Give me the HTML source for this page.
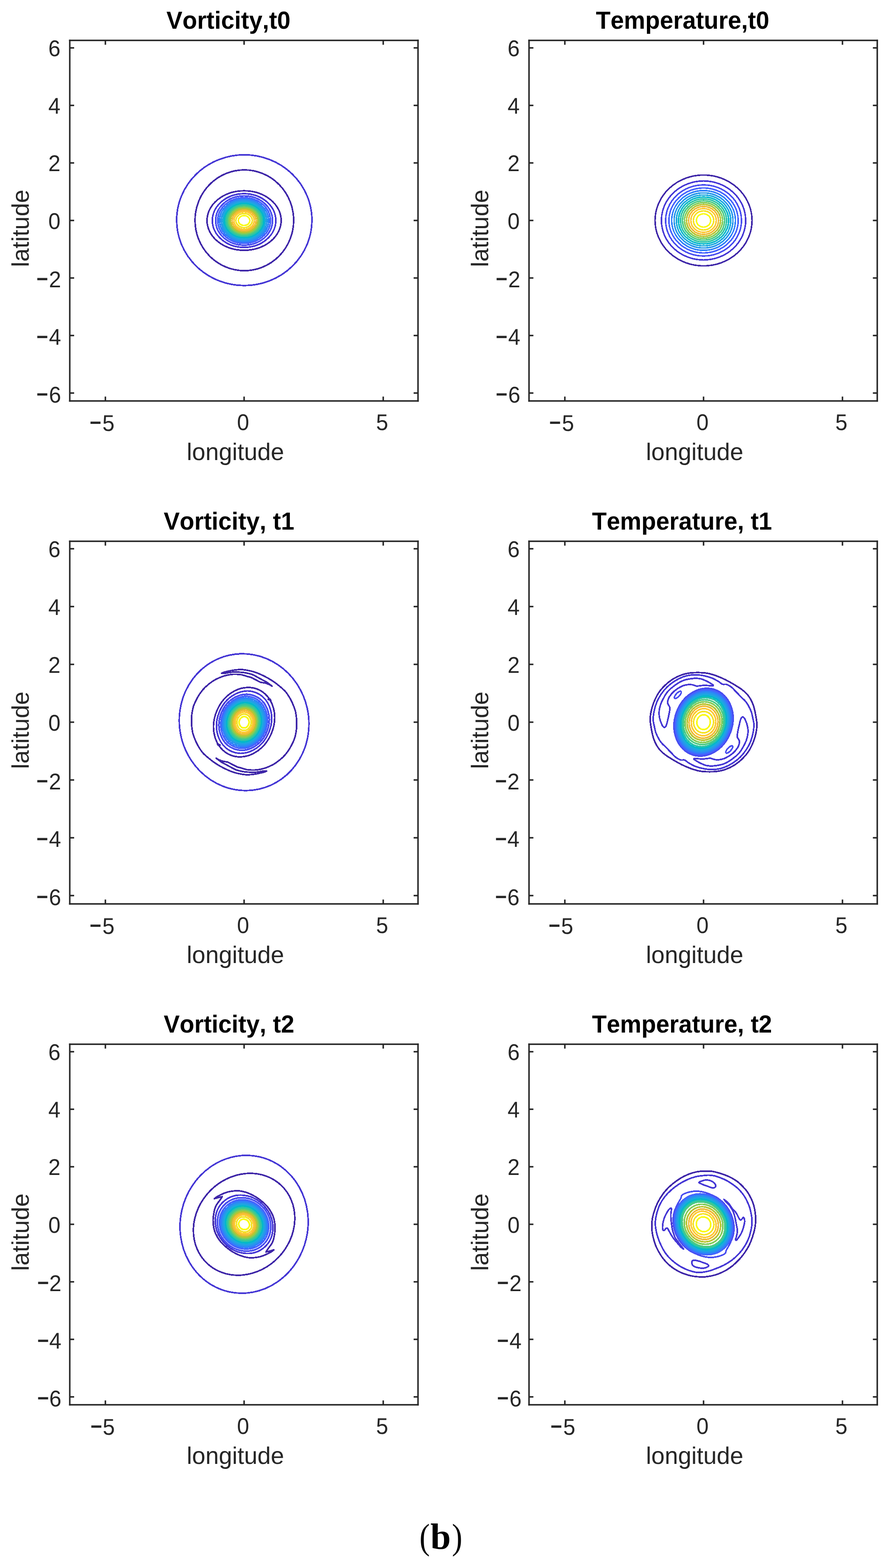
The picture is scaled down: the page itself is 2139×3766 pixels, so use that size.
<!DOCTYPE html>
<html lang="en"><head><meta charset="utf-8"><title>Vorticity and temperature contours (b)</title>
<style>
html,body{margin:0;padding:0;background:#fff;}
body{width:2139px;height:3766px;overflow:hidden;}
svg{display:block;}
</style></head><body>
<svg width="2139" height="3766" viewBox="0 0 2139 3766" font-family="'Liberation Sans', Arial, Helvetica, sans-serif" style="font-kerning:none;font-variant-ligatures:none" text-rendering="geometricPrecision">
<rect width="2139" height="3766" fill="#fff"/>
<g fill="none" stroke-width="3.60" stroke-linejoin="round" stroke-linecap="round" shape-rendering="crispEdges">
<ellipse cx="586.50" cy="528.80" rx="162.40" ry="157.00" stroke="#4537d5" stroke-width="3.80"/>
<ellipse cx="586.60" cy="529.10" rx="118.40" ry="121.00" stroke="#3e26a8" stroke-width="3.80"/>
<ellipse cx="586.00" cy="529.70" rx="89.00" ry="71.40" stroke="#3e26a8" stroke-width="3.80"/>
<ellipse cx="586.00" cy="529.70" rx="76.20" ry="64.50" stroke="#4537d5" stroke-width="3.80"/>
<ellipse cx="586.00" cy="529.70" rx="68.30" ry="59.15" stroke="#484df0" stroke-width="3.80"/>
<ellipse cx="586.00" cy="529.70" rx="63.30" ry="54.82" stroke="#4563fd" stroke-width="3.80"/>
<ellipse cx="586.00" cy="529.70" rx="59.00" ry="51.09" stroke="#2f81fa" stroke-width="3.80"/>
<ellipse cx="586.00" cy="529.70" rx="54.90" ry="47.54" stroke="#2797eb" stroke-width="3.80"/>
<ellipse cx="586.00" cy="529.70" rx="51.00" ry="44.17" stroke="#1ca9df" stroke-width="3.80"/>
<ellipse cx="586.00" cy="529.70" rx="47.30" ry="40.96" stroke="#01b8ca" stroke-width="3.80"/>
<ellipse cx="586.00" cy="529.70" rx="43.70" ry="37.84" stroke="#2cc4a7" stroke-width="3.80"/>
<ellipse cx="586.00" cy="529.70" rx="40.00" ry="34.64" stroke="#4acb84" stroke-width="3.80"/>
<ellipse cx="586.00" cy="529.70" rx="36.40" ry="31.52" stroke="#81cc59" stroke-width="3.80"/>
<ellipse cx="586.00" cy="529.70" rx="32.70" ry="28.32" stroke="#b9c431" stroke-width="3.80"/>
<ellipse cx="586.00" cy="529.70" rx="28.70" ry="24.85" stroke="#f0ba36" stroke-width="3.80"/>
<ellipse cx="586.00" cy="529.70" rx="24.50" ry="21.22" stroke="#fec934" stroke-width="3.80"/>
<ellipse cx="586.00" cy="529.70" rx="19.70" ry="17.06" stroke="#f5e327" stroke-width="3.80"/>
<ellipse cx="586.00" cy="529.70" rx="13.70" ry="11.86" stroke="#f9fb15" stroke-width="3.80"/>
</g>
<rect x="165.70" y="95.20" width="839.60" height="3.60" fill="#262626"/>
<rect x="165.70" y="961.20" width="839.60" height="3.60" fill="#262626"/>
<rect x="165.70" y="95.20" width="3.60" height="869.60" fill="#262626"/>
<rect x="1001.70" y="95.20" width="3.60" height="869.60" fill="#262626"/>
<rect x="251.20" y="952.50" width="3.60" height="10.50" fill="#262626"/>
<rect x="251.20" y="97.00" width="3.60" height="10.50" fill="#262626"/>
<rect x="584.20" y="952.50" width="3.60" height="10.50" fill="#262626"/>
<rect x="584.20" y="97.00" width="3.60" height="10.50" fill="#262626"/>
<rect x="918.20" y="952.50" width="3.60" height="10.50" fill="#262626"/>
<rect x="918.20" y="97.00" width="3.60" height="10.50" fill="#262626"/>
<rect x="167.50" y="113.20" width="10.50" height="3.60" fill="#262626"/>
<rect x="993.00" y="113.20" width="10.50" height="3.60" fill="#262626"/>
<rect x="167.50" y="251.37" width="10.50" height="3.60" fill="#262626"/>
<rect x="993.00" y="251.37" width="10.50" height="3.60" fill="#262626"/>
<rect x="167.50" y="389.53" width="10.50" height="3.60" fill="#262626"/>
<rect x="993.00" y="389.53" width="10.50" height="3.60" fill="#262626"/>
<rect x="167.50" y="527.70" width="10.50" height="3.60" fill="#262626"/>
<rect x="993.00" y="527.70" width="10.50" height="3.60" fill="#262626"/>
<rect x="167.50" y="665.87" width="10.50" height="3.60" fill="#262626"/>
<rect x="993.00" y="665.87" width="10.50" height="3.60" fill="#262626"/>
<rect x="167.50" y="804.03" width="10.50" height="3.60" fill="#262626"/>
<rect x="993.00" y="804.03" width="10.50" height="3.60" fill="#262626"/>
<rect x="167.50" y="942.20" width="10.50" height="3.60" fill="#262626"/>
<rect x="993.00" y="942.20" width="10.50" height="3.60" fill="#262626"/>
<text transform="translate(145.20 135.00) scale(1 1.0440)" font-size="52.40" font-weight="normal" fill="#262626" text-anchor="end">6</text>
<text transform="translate(145.20 273.17) scale(1 1.0440)" font-size="52.40" font-weight="normal" fill="#262626" text-anchor="end">4</text>
<text transform="translate(145.20 411.33) scale(1 1.0440)" font-size="52.40" font-weight="normal" fill="#262626" text-anchor="end">2</text>
<text transform="translate(145.20 549.50) scale(1 1.0440)" font-size="52.40" font-weight="normal" fill="#262626" text-anchor="end">0</text>
<text transform="translate(87.45 687.48) scale(1 1.0440)" font-size="52.40" fill="#262626"><tspan font-weight="bold" font-size="48.0">−</tspan><tspan dx="1.93" dy="2.38">2</tspan></text>
<text transform="translate(87.45 825.65) scale(1 1.0440)" font-size="52.40" fill="#262626"><tspan font-weight="bold" font-size="48.0">−</tspan><tspan dx="1.93" dy="2.29">4</tspan></text>
<text transform="translate(87.45 963.81) scale(1 1.0440)" font-size="52.40" fill="#262626"><tspan font-weight="bold" font-size="48.0">−</tspan><tspan dx="1.93" dy="3.44">6</tspan></text>
<text transform="translate(215.23 1031.71) scale(1 1.0440)" font-size="52.40" fill="#262626"><tspan font-weight="bold" font-size="48.0">−</tspan><tspan dx="2.53" dy="3.25">5</tspan></text>
<text transform="translate(583.45 1032.50) scale(1 1.0440)" font-size="52.40" font-weight="normal" fill="#262626" text-anchor="middle">0</text>
<text transform="translate(917.30 1032.50) scale(1 1.0440)" font-size="52.40" font-weight="normal" fill="#262626" text-anchor="middle">5</text>
<text transform="translate(448.30 1105.30) scale(1 1.0000)" font-size="57.60" font-weight="normal" fill="#262626" text-anchor="start">longitude</text>
<text transform="translate(68.50 548.40) rotate(-90) scale(1 1.0000)" font-size="57.60" fill="#262626" text-anchor="middle">latitude</text>
<text transform="translate(399.60 68.70) scale(1 1.0300)" font-size="57.60" font-weight="bold" fill="#000" text-anchor="start">Vorticity,t0</text>
<g fill="none" stroke-width="3.60" stroke-linejoin="round" stroke-linecap="round" shape-rendering="crispEdges">
<ellipse cx="1689.00" cy="529.50" rx="116.40" ry="109.14" stroke="#3e26a8"/>
<ellipse cx="1689.00" cy="529.50" rx="101.17" ry="94.86" stroke="#4537d5"/>
<ellipse cx="1689.00" cy="529.50" rx="91.08" ry="85.40" stroke="#484df0"/>
<ellipse cx="1689.00" cy="529.50" rx="83.19" ry="78.00" stroke="#4563fd"/>
<ellipse cx="1689.00" cy="529.50" rx="76.50" ry="71.73" stroke="#2f81fa"/>
<ellipse cx="1689.00" cy="529.50" rx="70.57" ry="66.17" stroke="#2797eb"/>
<ellipse cx="1689.00" cy="529.50" rx="65.14" ry="61.08" stroke="#1ca9df"/>
<ellipse cx="1689.00" cy="529.50" rx="60.04" ry="56.30" stroke="#01b8ca"/>
<ellipse cx="1689.00" cy="529.50" rx="55.15" ry="51.71" stroke="#2cc4a7"/>
<ellipse cx="1689.00" cy="529.50" rx="50.38" ry="47.23" stroke="#4acb84"/>
<ellipse cx="1689.00" cy="529.50" rx="45.63" ry="42.78" stroke="#81cc59"/>
<ellipse cx="1689.00" cy="529.50" rx="40.81" ry="38.27" stroke="#b9c431"/>
<ellipse cx="1689.00" cy="529.50" rx="35.82" ry="33.58" stroke="#f0ba36"/>
<ellipse cx="1689.00" cy="529.50" rx="30.47" ry="28.57" stroke="#fec934"/>
<ellipse cx="1689.00" cy="529.50" rx="24.47" ry="22.94" stroke="#f5e327"/>
<ellipse cx="1689.00" cy="529.50" rx="17.03" ry="15.97" stroke="#f9fb15"/>
</g>
<rect x="1268.20" y="95.20" width="839.60" height="3.60" fill="#262626"/>
<rect x="1268.20" y="961.20" width="839.60" height="3.60" fill="#262626"/>
<rect x="1268.20" y="95.20" width="3.60" height="869.60" fill="#262626"/>
<rect x="2104.20" y="95.20" width="3.60" height="869.60" fill="#262626"/>
<rect x="1354.20" y="952.50" width="3.60" height="10.50" fill="#262626"/>
<rect x="1354.20" y="97.00" width="3.60" height="10.50" fill="#262626"/>
<rect x="1687.20" y="952.50" width="3.60" height="10.50" fill="#262626"/>
<rect x="1687.20" y="97.00" width="3.60" height="10.50" fill="#262626"/>
<rect x="2020.70" y="952.50" width="3.60" height="10.50" fill="#262626"/>
<rect x="2020.70" y="97.00" width="3.60" height="10.50" fill="#262626"/>
<rect x="1270.00" y="113.20" width="10.50" height="3.60" fill="#262626"/>
<rect x="2095.50" y="113.20" width="10.50" height="3.60" fill="#262626"/>
<rect x="1270.00" y="251.37" width="10.50" height="3.60" fill="#262626"/>
<rect x="2095.50" y="251.37" width="10.50" height="3.60" fill="#262626"/>
<rect x="1270.00" y="389.53" width="10.50" height="3.60" fill="#262626"/>
<rect x="2095.50" y="389.53" width="10.50" height="3.60" fill="#262626"/>
<rect x="1270.00" y="527.70" width="10.50" height="3.60" fill="#262626"/>
<rect x="2095.50" y="527.70" width="10.50" height="3.60" fill="#262626"/>
<rect x="1270.00" y="665.87" width="10.50" height="3.60" fill="#262626"/>
<rect x="2095.50" y="665.87" width="10.50" height="3.60" fill="#262626"/>
<rect x="1270.00" y="804.03" width="10.50" height="3.60" fill="#262626"/>
<rect x="2095.50" y="804.03" width="10.50" height="3.60" fill="#262626"/>
<rect x="1270.00" y="942.20" width="10.50" height="3.60" fill="#262626"/>
<rect x="2095.50" y="942.20" width="10.50" height="3.60" fill="#262626"/>
<text transform="translate(1247.70 135.00) scale(1 1.0440)" font-size="52.40" font-weight="normal" fill="#262626" text-anchor="end">6</text>
<text transform="translate(1247.70 273.17) scale(1 1.0440)" font-size="52.40" font-weight="normal" fill="#262626" text-anchor="end">4</text>
<text transform="translate(1247.70 411.33) scale(1 1.0440)" font-size="52.40" font-weight="normal" fill="#262626" text-anchor="end">2</text>
<text transform="translate(1247.70 549.50) scale(1 1.0440)" font-size="52.40" font-weight="normal" fill="#262626" text-anchor="end">0</text>
<text transform="translate(1190.15 687.48) scale(1 1.0440)" font-size="52.40" fill="#262626"><tspan font-weight="bold" font-size="48.0">−</tspan><tspan dx="1.93" dy="2.38">2</tspan></text>
<text transform="translate(1190.15 825.65) scale(1 1.0440)" font-size="52.40" fill="#262626"><tspan font-weight="bold" font-size="48.0">−</tspan><tspan dx="1.93" dy="2.29">4</tspan></text>
<text transform="translate(1190.15 963.81) scale(1 1.0440)" font-size="52.40" fill="#262626"><tspan font-weight="bold" font-size="48.0">−</tspan><tspan dx="1.93" dy="3.44">6</tspan></text>
<text transform="translate(1318.43 1031.71) scale(1 1.0440)" font-size="52.40" fill="#262626"><tspan font-weight="bold" font-size="48.0">−</tspan><tspan dx="2.53" dy="3.25">5</tspan></text>
<text transform="translate(1686.45 1032.50) scale(1 1.0440)" font-size="52.40" font-weight="normal" fill="#262626" text-anchor="middle">0</text>
<text transform="translate(2019.80 1032.50) scale(1 1.0440)" font-size="52.40" font-weight="normal" fill="#262626" text-anchor="middle">5</text>
<text transform="translate(1550.80 1105.30) scale(1 1.0000)" font-size="57.60" font-weight="normal" fill="#262626" text-anchor="start">longitude</text>
<text transform="translate(1172.00 548.40) rotate(-90) scale(1 1.0000)" font-size="57.60" fill="#262626" text-anchor="middle">latitude</text>
<text transform="translate(1430.60 68.70) scale(1 1.0300)" font-size="57.60" font-weight="bold" fill="#000" text-anchor="start">Temperature,t0</text>
<g fill="none" stroke-width="3.60" stroke-linejoin="round" stroke-linecap="round" shape-rendering="crispEdges">
<ellipse cx="586.00" cy="1734.50" rx="164.75" ry="155.20" stroke="#4537d5" stroke-width="3.80" transform="rotate(-102.70 586.00 1734.50)"/>
<path d="M532.0 1617.0C532.8 1616.6 534.3 1615.6 537.0 1614.8C539.7 1614.0 544.3 1612.9 548.0 1612.1C551.7 1611.3 555.3 1610.5 559.0 1609.9C562.7 1609.3 566.3 1608.8 570.0 1608.5C573.7 1608.2 577.3 1608.0 581.0 1608.2C584.7 1608.4 587.8 1608.9 592.0 1609.6C596.2 1610.3 601.5 1611.4 606.0 1612.6C610.5 1613.8 614.1 1615.0 619.0 1617.0C623.9 1619.0 630.0 1621.7 635.5 1624.5C641.0 1627.3 646.9 1630.8 652.0 1634.0C657.1 1637.2 660.5 1639.6 666.0 1644.0C671.5 1648.4 679.7 1654.8 684.9 1660.6C690.1 1666.4 694.0 1673.3 697.3 1679.1C700.6 1684.9 702.7 1690.0 704.7 1695.2C706.8 1700.4 708.4 1704.4 709.6 1710.0C710.8 1715.6 711.7 1723.2 712.1 1728.6C712.5 1734.0 712.3 1738.3 712.2 1742.5C712.1 1746.7 712.1 1748.7 711.4 1753.5C710.7 1758.3 709.5 1765.8 707.9 1771.3C706.3 1776.8 704.4 1780.8 701.7 1786.2C699.0 1791.6 695.5 1798.2 691.8 1803.5C688.1 1808.8 684.6 1813.3 679.5 1818.3C674.4 1823.2 666.5 1829.4 660.9 1833.2C655.3 1837.0 650.8 1838.9 646.0 1841.0C641.2 1843.1 636.9 1844.6 632.3 1845.9C627.7 1847.2 623.1 1848.3 618.5 1848.9C613.9 1849.5 609.2 1849.6 604.8 1849.5C600.4 1849.4 596.3 1849.2 592.2 1848.4C588.1 1847.6 583.8 1845.9 580.0 1844.8C576.2 1843.7 573.1 1843.4 569.5 1842.0C565.9 1840.6 562.4 1838.4 558.5 1836.5C554.6 1834.6 550.1 1831.7 546.4 1830.4C542.7 1829.1 540.0 1829.7 536.5 1828.8C533.0 1827.9 528.5 1826.2 525.6 1824.9C522.7 1823.6 520.1 1821.8 519.0 1821.2" stroke="#3e26a8" stroke-width="3.80"/>
<path d="M640.0 1852.0C639.2 1852.4 637.7 1853.4 635.0 1854.2C632.3 1855.0 627.7 1856.1 624.0 1856.9C620.3 1857.7 616.7 1858.5 613.0 1859.1C609.3 1859.7 605.7 1860.2 602.0 1860.5C598.3 1860.8 594.7 1861.0 591.0 1860.8C587.3 1860.6 584.2 1860.1 580.0 1859.4C575.8 1858.7 570.5 1857.6 566.0 1856.4C561.5 1855.2 557.9 1854.0 553.0 1852.0C548.1 1850.0 542.0 1847.3 536.5 1844.5C531.0 1841.7 525.1 1838.2 520.0 1835.0C514.9 1831.8 511.5 1829.4 506.0 1825.0C500.5 1820.6 492.3 1814.2 487.1 1808.4C481.9 1802.6 478.0 1795.7 474.7 1789.9C471.4 1784.1 469.4 1779.0 467.3 1773.8C465.2 1768.6 463.6 1764.6 462.4 1759.0C461.2 1753.4 460.3 1745.8 459.9 1740.4C459.5 1735.0 459.7 1730.7 459.8 1726.5C459.9 1722.3 459.9 1720.3 460.6 1715.5C461.3 1710.7 462.5 1703.2 464.1 1697.7C465.7 1692.2 467.6 1688.2 470.3 1682.8C473.0 1677.4 476.5 1670.8 480.2 1665.5C483.9 1660.2 487.4 1655.7 492.5 1650.7C497.6 1645.8 505.5 1639.6 511.1 1635.8C516.7 1632.0 521.2 1630.1 526.0 1628.0C530.8 1625.9 535.1 1624.4 539.7 1623.1C544.3 1621.8 548.9 1620.7 553.5 1620.1C558.1 1619.5 562.8 1619.4 567.2 1619.5C571.6 1619.6 575.7 1619.8 579.8 1620.6C583.9 1621.4 588.2 1623.1 592.0 1624.2C595.8 1625.3 598.9 1625.6 602.5 1627.0C606.1 1628.4 609.6 1630.6 613.5 1632.5C617.4 1634.4 621.9 1637.3 625.6 1638.6C629.3 1639.9 632.0 1639.3 635.5 1640.2C639.0 1641.1 643.5 1642.8 646.4 1644.1C649.3 1645.4 651.9 1647.2 653.0 1647.8" stroke="#3e26a8" stroke-width="3.80"/>
<path d="M532.0 1617.0C532.8 1617.1 534.3 1617.7 537.0 1617.5C539.7 1617.3 544.3 1616.1 548.0 1615.6C551.7 1615.0 555.2 1614.4 559.0 1614.2C562.8 1614.0 567.3 1614.2 571.0 1614.3C574.7 1614.4 577.5 1614.4 581.0 1614.8C584.5 1615.2 587.8 1615.6 592.0 1616.5C596.2 1617.4 601.5 1618.5 606.0 1620.3C610.5 1622.0 615.0 1624.9 619.0 1627.0C623.0 1629.1 626.3 1631.0 630.0 1633.0C633.7 1635.0 637.2 1636.5 641.0 1639.0C644.8 1641.5 651.0 1646.3 653.0 1647.8" stroke="#3e26a8" stroke-width="3.80"/>
<path d="M640.0 1852.0C639.2 1851.9 637.7 1851.3 635.0 1851.5C632.3 1851.7 627.7 1852.9 624.0 1853.4C620.3 1854.0 616.8 1854.6 613.0 1854.8C609.2 1855.0 604.7 1854.8 601.0 1854.7C597.3 1854.6 594.5 1854.6 591.0 1854.2C587.5 1853.8 584.2 1853.4 580.0 1852.5C575.8 1851.6 570.5 1850.5 566.0 1848.7C561.5 1847.0 557.0 1844.1 553.0 1842.0C549.0 1839.9 545.7 1838.0 542.0 1836.0C538.3 1834.0 534.8 1832.5 531.0 1830.0C527.2 1827.5 521.0 1822.7 519.0 1821.2" stroke="#3e26a8" stroke-width="3.80"/>
<ellipse cx="586.00" cy="1734.50" rx="85.50" ry="70.90" stroke="#3e26a8" stroke-width="3.80" transform="rotate(-66.80 586.00 1734.50)"/>
<path d="M644.5 1679.3C645.0 1679.4 646.7 1679.4 647.5 1679.9C648.3 1680.4 649.2 1682.1 649.5 1682.5" stroke="#3e26a8" stroke-width="5.30"/>
<path d="M527.5 1789.7C527.0 1789.6 525.3 1789.6 524.5 1789.1C523.7 1788.6 522.8 1786.9 522.5 1786.5" stroke="#3e26a8" stroke-width="5.30"/>
<ellipse cx="586.00" cy="1734.50" rx="76.40" ry="64.30" stroke="#4537d5" stroke-width="3.80" transform="rotate(-67.60 586.00 1734.50)"/>
<ellipse cx="586.00" cy="1734.80" rx="68.30" ry="59.15" stroke="#484df0" stroke-width="4.00" transform="rotate(-69.00 586.00 1734.80)"/>
<ellipse cx="586.00" cy="1734.80" rx="63.30" ry="54.82" stroke="#4563fd" stroke-width="4.00" transform="rotate(-70.40 586.00 1734.80)"/>
<ellipse cx="586.00" cy="1734.80" rx="59.00" ry="51.09" stroke="#2f81fa" stroke-width="4.00" transform="rotate(-71.80 586.00 1734.80)"/>
<ellipse cx="586.00" cy="1734.80" rx="54.90" ry="47.54" stroke="#2797eb" stroke-width="4.00" transform="rotate(-73.20 586.00 1734.80)"/>
<ellipse cx="586.00" cy="1734.80" rx="51.00" ry="44.17" stroke="#1ca9df" stroke-width="4.00" transform="rotate(-74.60 586.00 1734.80)"/>
<ellipse cx="586.00" cy="1734.80" rx="47.30" ry="40.96" stroke="#01b8ca" stroke-width="4.00" transform="rotate(-76.00 586.00 1734.80)"/>
<ellipse cx="586.00" cy="1734.80" rx="43.70" ry="37.84" stroke="#2cc4a7" stroke-width="4.00" transform="rotate(-77.40 586.00 1734.80)"/>
<ellipse cx="586.00" cy="1734.80" rx="40.00" ry="34.64" stroke="#4acb84" stroke-width="4.00" transform="rotate(-78.80 586.00 1734.80)"/>
<ellipse cx="586.00" cy="1734.80" rx="36.40" ry="31.52" stroke="#81cc59" stroke-width="4.00" transform="rotate(-80.20 586.00 1734.80)"/>
<ellipse cx="586.00" cy="1734.80" rx="32.70" ry="28.32" stroke="#b9c431" stroke-width="4.00" transform="rotate(-81.60 586.00 1734.80)"/>
<ellipse cx="586.00" cy="1734.80" rx="28.70" ry="24.85" stroke="#f0ba36" stroke-width="4.00" transform="rotate(-83.00 586.00 1734.80)"/>
<ellipse cx="586.00" cy="1734.80" rx="24.50" ry="21.22" stroke="#fec934" stroke-width="4.00" transform="rotate(-84.40 586.00 1734.80)"/>
<ellipse cx="586.00" cy="1734.80" rx="19.70" ry="17.06" stroke="#f5e327" stroke-width="4.00" transform="rotate(-85.80 586.00 1734.80)"/>
<ellipse cx="586.00" cy="1734.80" rx="13.70" ry="11.86" stroke="#f9fb15" stroke-width="4.00" transform="rotate(-87.20 586.00 1734.80)"/>
</g>
<rect x="165.70" y="1298.20" width="839.60" height="3.60" fill="#262626"/>
<rect x="165.70" y="2169.20" width="839.60" height="3.60" fill="#262626"/>
<rect x="165.70" y="1298.20" width="3.60" height="874.60" fill="#262626"/>
<rect x="1001.70" y="1298.20" width="3.60" height="874.60" fill="#262626"/>
<rect x="251.20" y="2160.50" width="3.60" height="10.50" fill="#262626"/>
<rect x="251.20" y="1300.00" width="3.60" height="10.50" fill="#262626"/>
<rect x="584.20" y="2160.50" width="3.60" height="10.50" fill="#262626"/>
<rect x="584.20" y="1300.00" width="3.60" height="10.50" fill="#262626"/>
<rect x="918.20" y="2160.50" width="3.60" height="10.50" fill="#262626"/>
<rect x="918.20" y="1300.00" width="3.60" height="10.50" fill="#262626"/>
<rect x="167.50" y="1316.20" width="10.50" height="3.60" fill="#262626"/>
<rect x="993.00" y="1316.20" width="10.50" height="3.60" fill="#262626"/>
<rect x="167.50" y="1455.03" width="10.50" height="3.60" fill="#262626"/>
<rect x="993.00" y="1455.03" width="10.50" height="3.60" fill="#262626"/>
<rect x="167.50" y="1593.87" width="10.50" height="3.60" fill="#262626"/>
<rect x="993.00" y="1593.87" width="10.50" height="3.60" fill="#262626"/>
<rect x="167.50" y="1732.70" width="10.50" height="3.60" fill="#262626"/>
<rect x="993.00" y="1732.70" width="10.50" height="3.60" fill="#262626"/>
<rect x="167.50" y="1871.53" width="10.50" height="3.60" fill="#262626"/>
<rect x="993.00" y="1871.53" width="10.50" height="3.60" fill="#262626"/>
<rect x="167.50" y="2010.37" width="10.50" height="3.60" fill="#262626"/>
<rect x="993.00" y="2010.37" width="10.50" height="3.60" fill="#262626"/>
<rect x="167.50" y="2149.20" width="10.50" height="3.60" fill="#262626"/>
<rect x="993.00" y="2149.20" width="10.50" height="3.60" fill="#262626"/>
<text transform="translate(145.20 1338.00) scale(1 1.0440)" font-size="52.40" font-weight="normal" fill="#262626" text-anchor="end">6</text>
<text transform="translate(145.20 1476.83) scale(1 1.0440)" font-size="52.40" font-weight="normal" fill="#262626" text-anchor="end">4</text>
<text transform="translate(145.20 1615.67) scale(1 1.0440)" font-size="52.40" font-weight="normal" fill="#262626" text-anchor="end">2</text>
<text transform="translate(145.20 1754.50) scale(1 1.0440)" font-size="52.40" font-weight="normal" fill="#262626" text-anchor="end">0</text>
<text transform="translate(87.45 1893.15) scale(1 1.0440)" font-size="52.40" fill="#262626"><tspan font-weight="bold" font-size="48.0">−</tspan><tspan dx="1.93" dy="2.38">2</tspan></text>
<text transform="translate(87.45 2031.98) scale(1 1.0440)" font-size="52.40" fill="#262626"><tspan font-weight="bold" font-size="48.0">−</tspan><tspan dx="1.93" dy="2.29">4</tspan></text>
<text transform="translate(87.45 2170.81) scale(1 1.0440)" font-size="52.40" fill="#262626"><tspan font-weight="bold" font-size="48.0">−</tspan><tspan dx="1.93" dy="3.44">6</tspan></text>
<text transform="translate(215.23 2239.71) scale(1 1.0440)" font-size="52.40" fill="#262626"><tspan font-weight="bold" font-size="48.0">−</tspan><tspan dx="2.53" dy="3.25">5</tspan></text>
<text transform="translate(583.45 2240.50) scale(1 1.0440)" font-size="52.40" font-weight="normal" fill="#262626" text-anchor="middle">0</text>
<text transform="translate(917.30 2240.50) scale(1 1.0440)" font-size="52.40" font-weight="normal" fill="#262626" text-anchor="middle">5</text>
<text transform="translate(448.30 2313.30) scale(1 1.0000)" font-size="57.60" font-weight="normal" fill="#262626" text-anchor="start">longitude</text>
<text transform="translate(68.50 1753.90) rotate(-90) scale(1 1.0000)" font-size="57.60" fill="#262626" text-anchor="middle">latitude</text>
<text transform="translate(392.90 1271.70) scale(1 1.0300)" font-size="57.60" font-weight="bold" fill="#000" text-anchor="start">Vorticity, t1</text>
<g fill="none" stroke-width="3.60" stroke-linejoin="round" stroke-linecap="round" shape-rendering="crispEdges">
<path d="M1560.8 1727.7C1560.9 1721.2 1562.0 1714.1 1563.4 1707.3C1564.9 1700.5 1566.7 1694.1 1569.6 1687.0C1572.5 1679.8 1576.3 1671.3 1580.8 1664.5C1585.2 1657.8 1590.4 1651.9 1596.1 1646.3C1601.9 1640.7 1608.7 1635.2 1615.5 1631.0C1622.3 1626.7 1630.0 1623.2 1637.0 1620.8C1644.0 1618.3 1650.5 1617.1 1657.5 1616.2C1664.4 1615.3 1671.5 1615.3 1678.5 1615.4C1685.4 1615.6 1692.3 1615.9 1699.2 1617.2C1706.1 1618.5 1713.1 1620.9 1720.0 1623.3C1726.8 1625.8 1733.6 1628.7 1740.4 1632.0C1747.2 1635.4 1754.0 1639.1 1760.8 1643.2C1767.6 1647.3 1775.6 1652.2 1781.3 1656.4C1786.9 1660.7 1790.6 1663.9 1794.5 1668.6C1798.5 1673.3 1802.0 1679.3 1804.8 1684.9C1807.5 1690.5 1809.2 1695.9 1810.9 1702.2C1812.6 1708.5 1813.9 1716.0 1815.0 1722.5C1816.0 1729.1 1817.2 1734.8 1817.2 1741.3C1817.1 1747.8 1816.0 1754.9 1814.6 1761.7C1813.1 1768.5 1811.3 1774.9 1808.4 1782.0C1805.5 1789.2 1801.7 1797.7 1797.2 1804.5C1792.8 1811.2 1787.6 1817.1 1781.9 1822.7C1776.1 1828.3 1769.3 1833.8 1762.5 1838.0C1755.7 1842.3 1748.0 1845.8 1741.0 1848.2C1734.0 1850.7 1727.5 1851.9 1720.5 1852.8C1713.6 1853.7 1706.5 1853.7 1699.5 1853.6C1692.6 1853.4 1685.7 1853.1 1678.8 1851.8C1671.9 1850.5 1664.9 1848.1 1658.0 1845.7C1651.2 1843.2 1644.4 1840.3 1637.6 1837.0C1630.8 1833.6 1624.0 1829.9 1617.2 1825.8C1610.4 1821.7 1602.4 1816.8 1596.7 1812.6C1591.1 1808.3 1587.4 1805.1 1583.5 1800.4C1579.5 1795.7 1576.0 1789.7 1573.2 1784.1C1570.5 1778.5 1568.8 1773.1 1567.1 1766.8C1565.4 1760.5 1564.1 1753.0 1563.0 1746.5C1562.0 1739.9 1560.8 1734.2 1560.8 1727.7Z" stroke="#3e26a8" stroke-width="3.80"/>
<path d="M1568.0 1727.6C1568.0 1721.9 1569.1 1713.9 1570.6 1707.0C1572.0 1700.1 1574.0 1692.9 1576.7 1686.4C1579.4 1679.9 1582.8 1673.8 1586.9 1667.8C1591.0 1661.8 1595.8 1655.6 1601.2 1650.3C1606.6 1645.0 1613.1 1640.0 1619.6 1635.9C1626.0 1631.8 1633.3 1628.1 1640.1 1625.6C1646.9 1623.1 1654.1 1621.7 1660.5 1621.0C1666.9 1620.3 1672.8 1620.7 1678.5 1621.2C1684.1 1621.7 1689.2 1622.8 1694.5 1624.1C1699.7 1625.3 1704.6 1626.6 1709.7 1628.7C1714.8 1630.8 1721.0 1634.5 1725.1 1636.9C1729.2 1639.3 1731.0 1642.1 1734.2 1643.3C1737.5 1644.5 1740.9 1642.7 1744.5 1643.9C1748.0 1645.1 1751.7 1647.0 1755.8 1650.3C1759.9 1653.6 1764.8 1659.4 1769.1 1663.7C1773.3 1668.0 1777.9 1672.7 1781.3 1676.1C1784.7 1679.5 1786.9 1681.2 1789.5 1684.3C1792.1 1687.4 1794.3 1690.3 1796.6 1694.6C1799.0 1698.9 1801.9 1704.6 1803.8 1710.1C1805.6 1715.6 1806.8 1722.4 1807.8 1727.6C1808.9 1732.8 1810.1 1735.7 1810.0 1741.4C1810.0 1747.1 1808.9 1755.1 1807.4 1762.0C1806.0 1768.9 1804.0 1776.1 1801.3 1782.6C1798.6 1789.1 1795.2 1795.2 1791.1 1801.2C1787.0 1807.2 1782.2 1813.4 1776.8 1818.7C1771.4 1824.0 1764.9 1829.0 1758.4 1833.1C1752.0 1837.2 1744.7 1840.9 1737.9 1843.4C1731.1 1845.9 1723.9 1847.3 1717.5 1848.0C1711.1 1848.7 1705.2 1848.3 1699.5 1847.8C1693.9 1847.3 1688.8 1846.2 1683.5 1844.9C1678.3 1843.7 1673.4 1842.4 1668.3 1840.3C1663.2 1838.2 1657.0 1834.5 1652.9 1832.1C1648.8 1829.7 1647.0 1826.9 1643.8 1825.7C1640.5 1824.5 1637.1 1826.3 1633.5 1825.1C1630.0 1823.9 1626.3 1822.0 1622.2 1818.7C1618.1 1815.4 1613.2 1809.6 1608.9 1805.3C1604.7 1801.0 1600.1 1796.3 1596.7 1792.9C1593.3 1789.5 1591.1 1787.8 1588.5 1784.7C1585.9 1781.6 1583.7 1778.7 1581.4 1774.4C1579.0 1770.1 1576.1 1764.4 1574.2 1758.9C1572.4 1753.4 1571.2 1746.6 1570.2 1741.4C1569.1 1736.2 1567.9 1733.3 1568.0 1727.6Z" stroke="#4537d5" stroke-width="3.80"/>
<path d="M1594.4 1746.9C1592.7 1746.4 1590.7 1744.1 1588.8 1740.0C1586.9 1735.9 1584.0 1727.9 1583.0 1722.4C1582.0 1716.9 1582.0 1712.2 1582.5 1707.0C1583.0 1701.8 1584.5 1696.3 1586.1 1691.5C1587.7 1686.7 1589.5 1683.1 1592.3 1678.1C1595.0 1673.1 1597.8 1667.2 1602.6 1661.7C1607.4 1656.2 1614.6 1649.8 1621.1 1645.2C1627.6 1640.6 1634.0 1636.6 1641.7 1633.9C1649.4 1631.2 1660.6 1629.8 1667.5 1629.2C1674.4 1628.7 1679.3 1630.0 1682.9 1630.6C1686.5 1631.2 1686.5 1631.6 1689.3 1632.8C1692.1 1634.0 1696.3 1635.8 1699.6 1637.5C1702.9 1639.2 1706.8 1641.7 1708.9 1643.1C1711.1 1644.5 1712.3 1645.2 1712.5 1645.9C1712.7 1646.6 1712.1 1647.1 1709.9 1647.2C1707.8 1647.3 1703.2 1646.7 1699.6 1646.5C1696.0 1646.3 1692.6 1646.0 1688.1 1646.2C1683.6 1646.4 1676.9 1648.0 1672.6 1647.8C1668.3 1647.5 1665.7 1645.3 1662.3 1644.7C1658.9 1644.1 1656.3 1643.6 1652.0 1644.2C1647.7 1644.8 1642.1 1645.7 1636.6 1648.3C1631.1 1650.9 1624.0 1655.3 1619.0 1659.6C1614.0 1663.9 1609.4 1669.5 1606.7 1674.0C1604.0 1678.5 1602.9 1683.3 1602.6 1686.4C1602.2 1689.5 1603.7 1690.4 1604.6 1692.6C1605.5 1694.8 1607.8 1696.5 1608.2 1699.8C1608.6 1703.0 1607.5 1707.5 1606.7 1712.1C1605.9 1716.7 1604.7 1722.4 1603.4 1727.6C1602.2 1732.8 1600.7 1739.9 1599.2 1743.1C1597.7 1746.3 1596.1 1747.4 1594.4 1746.9Z" stroke="#4537d5" stroke-width="3.80"/>
<path d="M1783.6 1722.1C1785.3 1722.6 1787.3 1724.9 1789.2 1729.0C1791.1 1733.1 1794.0 1741.1 1795.0 1746.6C1796.0 1752.1 1796.0 1756.8 1795.5 1762.0C1795.0 1767.2 1793.5 1772.7 1791.9 1777.5C1790.3 1782.3 1788.5 1785.9 1785.7 1790.9C1783.0 1795.9 1780.2 1801.8 1775.4 1807.3C1770.6 1812.8 1763.4 1819.2 1756.9 1823.8C1750.4 1828.4 1744.0 1832.4 1736.3 1835.1C1728.6 1837.8 1717.4 1839.2 1710.5 1839.8C1703.6 1840.3 1698.7 1839.0 1695.1 1838.4C1691.5 1837.8 1691.5 1837.4 1688.7 1836.2C1685.9 1835.0 1681.7 1833.2 1678.4 1831.5C1675.1 1829.8 1671.2 1827.3 1669.1 1825.9C1666.9 1824.5 1665.7 1823.8 1665.5 1823.1C1665.3 1822.4 1665.9 1821.9 1668.1 1821.8C1670.2 1821.7 1674.8 1822.3 1678.4 1822.5C1682.0 1822.7 1685.4 1823.0 1689.9 1822.8C1694.4 1822.6 1701.1 1821.0 1705.4 1821.2C1709.7 1821.5 1712.3 1823.7 1715.7 1824.3C1719.1 1824.9 1721.7 1825.4 1726.0 1824.8C1730.3 1824.2 1735.9 1823.3 1741.4 1820.7C1746.9 1818.1 1754.0 1813.7 1759.0 1809.4C1764.0 1805.1 1768.6 1799.5 1771.3 1795.0C1774.0 1790.5 1775.1 1785.7 1775.4 1782.6C1775.8 1779.5 1774.3 1778.6 1773.4 1776.4C1772.5 1774.2 1770.2 1772.5 1769.8 1769.2C1769.4 1766.0 1770.5 1761.5 1771.3 1756.9C1772.1 1752.3 1773.3 1746.6 1774.6 1741.4C1775.8 1736.2 1777.3 1729.1 1778.8 1725.9C1780.3 1722.7 1781.9 1721.6 1783.6 1722.1Z" stroke="#4537d5" stroke-width="3.80"/>
<ellipse cx="1627.30" cy="1668.90" rx="11.30" ry="4.30" stroke="#484df0" stroke-width="3.80" transform="rotate(-47.00 1627.30 1668.90)"/>
<ellipse cx="1750.70" cy="1800.10" rx="11.30" ry="4.30" stroke="#484df0" stroke-width="3.80" transform="rotate(-47.00 1750.70 1800.10)"/>
<ellipse cx="1689.00" cy="1734.50" rx="82.80" ry="69.20" stroke="#484df0" stroke-width="3.90" transform="rotate(-70.40 1689.00 1734.50)"/>
<ellipse cx="1689.00" cy="1734.50" rx="78.95" ry="66.00" stroke="#4563fd" stroke-width="3.90" transform="rotate(-70.40 1689.00 1734.50)"/>
<ellipse cx="1689.00" cy="1734.50" rx="75.10" ry="62.80" stroke="#2f81fa" stroke-width="3.90" transform="rotate(-70.40 1689.00 1734.50)"/>
<ellipse cx="1689.00" cy="1734.50" rx="71.25" ry="59.60" stroke="#2797eb" stroke-width="3.90" transform="rotate(-70.40 1689.00 1734.50)"/>
<ellipse cx="1689.00" cy="1734.50" rx="67.40" ry="56.40" stroke="#1ca9df" stroke-width="3.90" transform="rotate(-70.40 1689.00 1734.50)"/>
<ellipse cx="1689.00" cy="1734.50" rx="63.55" ry="53.20" stroke="#01b8ca" stroke-width="3.90" transform="rotate(-70.40 1689.00 1734.50)"/>
<ellipse cx="1689.00" cy="1734.50" rx="59.60" ry="50.47" stroke="#2cc4a7" stroke-width="3.80" transform="rotate(-72.10 1689.00 1734.50)"/>
<ellipse cx="1689.00" cy="1734.50" rx="54.28" ry="47.76" stroke="#4acb84" stroke-width="3.80" transform="rotate(-73.80 1689.00 1734.50)"/>
<ellipse cx="1689.00" cy="1734.50" rx="49.23" ry="43.74" stroke="#81cc59" stroke-width="3.80" transform="rotate(-75.50 1689.00 1734.50)"/>
<ellipse cx="1689.00" cy="1734.50" rx="43.61" ry="39.17" stroke="#b9c431" stroke-width="3.80" transform="rotate(-77.20 1689.00 1734.50)"/>
<ellipse cx="1689.00" cy="1734.50" rx="38.54" ry="34.54" stroke="#f0ba36" stroke-width="3.80" transform="rotate(-78.90 1689.00 1734.50)"/>
<ellipse cx="1689.00" cy="1734.50" rx="32.58" ry="29.41" stroke="#fec934" stroke-width="3.80" transform="rotate(-80.60 1689.00 1734.50)"/>
<ellipse cx="1689.00" cy="1734.50" rx="25.73" ry="23.87" stroke="#f5e327" stroke-width="3.80" transform="rotate(-82.30 1689.00 1734.50)"/>
<ellipse cx="1689.00" cy="1734.50" rx="17.72" ry="16.08" stroke="#f9fb15" stroke-width="3.80" transform="rotate(-84.00 1689.00 1734.50)"/>
</g>
<rect x="1268.20" y="1298.20" width="839.60" height="3.60" fill="#262626"/>
<rect x="1268.20" y="2169.20" width="839.60" height="3.60" fill="#262626"/>
<rect x="1268.20" y="1298.20" width="3.60" height="874.60" fill="#262626"/>
<rect x="2104.20" y="1298.20" width="3.60" height="874.60" fill="#262626"/>
<rect x="1354.20" y="2160.50" width="3.60" height="10.50" fill="#262626"/>
<rect x="1354.20" y="1300.00" width="3.60" height="10.50" fill="#262626"/>
<rect x="1687.20" y="2160.50" width="3.60" height="10.50" fill="#262626"/>
<rect x="1687.20" y="1300.00" width="3.60" height="10.50" fill="#262626"/>
<rect x="2020.70" y="2160.50" width="3.60" height="10.50" fill="#262626"/>
<rect x="2020.70" y="1300.00" width="3.60" height="10.50" fill="#262626"/>
<rect x="1270.00" y="1316.20" width="10.50" height="3.60" fill="#262626"/>
<rect x="2095.50" y="1316.20" width="10.50" height="3.60" fill="#262626"/>
<rect x="1270.00" y="1455.03" width="10.50" height="3.60" fill="#262626"/>
<rect x="2095.50" y="1455.03" width="10.50" height="3.60" fill="#262626"/>
<rect x="1270.00" y="1593.87" width="10.50" height="3.60" fill="#262626"/>
<rect x="2095.50" y="1593.87" width="10.50" height="3.60" fill="#262626"/>
<rect x="1270.00" y="1732.70" width="10.50" height="3.60" fill="#262626"/>
<rect x="2095.50" y="1732.70" width="10.50" height="3.60" fill="#262626"/>
<rect x="1270.00" y="1871.53" width="10.50" height="3.60" fill="#262626"/>
<rect x="2095.50" y="1871.53" width="10.50" height="3.60" fill="#262626"/>
<rect x="1270.00" y="2010.37" width="10.50" height="3.60" fill="#262626"/>
<rect x="2095.50" y="2010.37" width="10.50" height="3.60" fill="#262626"/>
<rect x="1270.00" y="2149.20" width="10.50" height="3.60" fill="#262626"/>
<rect x="2095.50" y="2149.20" width="10.50" height="3.60" fill="#262626"/>
<text transform="translate(1247.70 1338.00) scale(1 1.0440)" font-size="52.40" font-weight="normal" fill="#262626" text-anchor="end">6</text>
<text transform="translate(1247.70 1476.83) scale(1 1.0440)" font-size="52.40" font-weight="normal" fill="#262626" text-anchor="end">4</text>
<text transform="translate(1247.70 1615.67) scale(1 1.0440)" font-size="52.40" font-weight="normal" fill="#262626" text-anchor="end">2</text>
<text transform="translate(1247.70 1754.50) scale(1 1.0440)" font-size="52.40" font-weight="normal" fill="#262626" text-anchor="end">0</text>
<text transform="translate(1188.75 1893.15) scale(1 1.0440)" font-size="52.40" fill="#262626"><tspan font-weight="bold" font-size="48.0">−</tspan><tspan dx="1.33" dy="2.38">2</tspan></text>
<text transform="translate(1188.75 2031.98) scale(1 1.0440)" font-size="52.40" fill="#262626"><tspan font-weight="bold" font-size="48.0">−</tspan><tspan dx="1.33" dy="2.29">4</tspan></text>
<text transform="translate(1188.75 2170.81) scale(1 1.0440)" font-size="52.40" fill="#262626"><tspan font-weight="bold" font-size="48.0">−</tspan><tspan dx="1.33" dy="3.44">6</tspan></text>
<text transform="translate(1317.03 2239.71) scale(1 1.0440)" font-size="52.40" fill="#262626"><tspan font-weight="bold" font-size="48.0">−</tspan><tspan dx="1.93" dy="3.25">5</tspan></text>
<text transform="translate(1686.45 2240.50) scale(1 1.0440)" font-size="52.40" font-weight="normal" fill="#262626" text-anchor="middle">0</text>
<text transform="translate(2019.80 2240.50) scale(1 1.0440)" font-size="52.40" font-weight="normal" fill="#262626" text-anchor="middle">5</text>
<text transform="translate(1550.80 2313.30) scale(1 1.0000)" font-size="57.60" font-weight="normal" fill="#262626" text-anchor="start">longitude</text>
<text transform="translate(1172.00 1753.90) rotate(-90) scale(1 1.0000)" font-size="57.60" fill="#262626" text-anchor="middle">latitude</text>
<text transform="translate(1421.30 1271.70) scale(1 1.0300)" font-size="57.60" font-weight="bold" fill="#000" text-anchor="start">Temperature, t1</text>
<g fill="none" stroke-width="3.60" stroke-linejoin="round" stroke-linecap="round" shape-rendering="crispEdges">
<ellipse cx="586.00" cy="2940.50" rx="166.20" ry="153.20" stroke="#4537d5" stroke-width="3.80" transform="rotate(-77.20 586.00 2940.50)"/>
<ellipse cx="586.00" cy="2940.50" rx="129.20" ry="114.50" stroke="#3e26a8" stroke-width="3.80" transform="rotate(-46.20 586.00 2940.50)"/>
<path d="M514.5 2879.1C515.8 2878.7 519.7 2877.6 522.0 2876.9C524.3 2876.2 526.6 2875.6 528.5 2875.1C530.4 2874.6 532.6 2874.3 533.4 2874.1" stroke="#3e26a8" stroke-width="3.80"/>
<path d="M657.5 3001.9C656.2 3002.3 652.3 3003.4 650.0 3004.1C647.7 3004.8 645.4 3005.4 643.5 3005.9C641.6 3006.4 639.4 3006.7 638.6 3006.9" stroke="#3e26a8" stroke-width="3.80"/>
<path d="M533.4 2874.1C532.9 2874.9 531.6 2877.2 530.5 2878.9C529.4 2880.6 527.7 2882.9 526.5 2884.5C525.3 2886.1 524.6 2886.7 523.4 2888.5C522.1 2890.3 520.4 2892.3 519.0 2895.1C517.6 2897.8 516.3 2901.3 515.3 2905.0C514.3 2908.7 513.4 2913.3 512.8 2917.4C512.2 2921.5 511.7 2925.6 511.6 2929.7C511.5 2933.8 511.6 2937.6 512.2 2942.1C512.8 2946.6 513.8 2952.2 515.3 2956.9C516.8 2961.6 519.0 2966.2 521.5 2970.5C524.0 2974.8 527.0 2979.2 530.1 2982.9C533.2 2986.6 536.3 2989.5 540.0 2992.8C543.7 2996.1 548.3 2999.8 552.4 3002.7C556.5 3005.6 560.6 3007.9 564.7 3010.1C568.8 3012.3 573.0 3014.1 577.1 3015.7C581.2 3017.2 585.4 3018.5 589.5 3019.4C593.6 3020.3 597.7 3020.9 601.8 3021.0C605.9 3021.1 610.1 3020.7 614.2 3020.2C618.3 3019.7 622.4 3019.0 626.5 3017.8C630.6 3016.6 635.2 3014.6 638.9 3012.9C642.6 3011.2 646.4 3009.2 648.8 3007.9C651.2 3006.6 652.0 3006.1 653.5 3005.1C655.0 3004.1 656.8 3002.4 657.5 3001.9" stroke="#3e26a8" stroke-width="3.80"/>
<path d="M638.6 3006.9C639.1 3006.1 640.4 3003.8 641.5 3002.1C642.6 3000.4 644.3 2998.1 645.5 2996.5C646.7 2994.9 647.4 2994.3 648.6 2992.5C649.9 2990.7 651.6 2988.7 653.0 2985.9C654.4 2983.2 655.7 2979.7 656.7 2976.0C657.7 2972.3 658.6 2967.7 659.2 2963.6C659.8 2959.5 660.3 2955.4 660.4 2951.3C660.5 2947.2 660.4 2943.4 659.8 2938.9C659.2 2934.4 658.2 2928.8 656.7 2924.1C655.2 2919.4 653.0 2914.8 650.5 2910.5C648.0 2906.2 645.0 2901.8 641.9 2898.1C638.8 2894.4 635.7 2891.5 632.0 2888.2C628.3 2884.9 623.7 2881.2 619.6 2878.3C615.5 2875.4 611.4 2873.1 607.3 2870.9C603.2 2868.7 599.0 2866.9 594.9 2865.3C590.8 2863.8 586.6 2862.5 582.5 2861.6C578.4 2860.7 574.3 2860.1 570.2 2860.0C566.1 2859.9 561.9 2860.3 557.8 2860.8C553.7 2861.3 549.6 2862.0 545.5 2863.2C541.4 2864.4 536.8 2866.4 533.1 2868.1C529.4 2869.8 525.6 2871.8 523.2 2873.1C520.8 2874.4 520.0 2874.9 518.5 2875.9C517.0 2876.9 515.2 2878.6 514.5 2879.1" stroke="#3e26a8" stroke-width="3.80"/>
<ellipse cx="586.00" cy="2940.50" rx="73.60" ry="65.40" stroke="#4537d5" stroke-width="3.80" transform="rotate(-132.00 586.00 2940.50)"/>
<ellipse cx="586.00" cy="2940.80" rx="66.80" ry="61.30" stroke="#484df0" stroke-width="4.00" transform="rotate(-134.40 586.00 2940.80)"/>
<ellipse cx="586.00" cy="2940.80" rx="61.40" ry="56.53" stroke="#4563fd" stroke-width="4.00" transform="rotate(-134.90 586.00 2940.80)"/>
<ellipse cx="586.00" cy="2940.80" rx="57.23" ry="52.69" stroke="#2f81fa" stroke-width="4.00" transform="rotate(-135.40 586.00 2940.80)"/>
<ellipse cx="586.00" cy="2940.80" rx="53.25" ry="49.03" stroke="#2797eb" stroke-width="4.00" transform="rotate(-135.90 586.00 2940.80)"/>
<ellipse cx="586.00" cy="2940.80" rx="49.47" ry="45.54" stroke="#1ca9df" stroke-width="4.00" transform="rotate(-136.40 586.00 2940.80)"/>
<ellipse cx="586.00" cy="2940.80" rx="45.88" ry="42.24" stroke="#01b8ca" stroke-width="4.00" transform="rotate(-136.90 586.00 2940.80)"/>
<ellipse cx="586.00" cy="2940.80" rx="42.39" ry="39.02" stroke="#2cc4a7" stroke-width="4.00" transform="rotate(-137.40 586.00 2940.80)"/>
<ellipse cx="586.00" cy="2940.80" rx="38.80" ry="35.72" stroke="#4acb84" stroke-width="4.00" transform="rotate(-137.90 586.00 2940.80)"/>
<ellipse cx="586.00" cy="2940.80" rx="35.31" ry="32.51" stroke="#81cc59" stroke-width="4.00" transform="rotate(-138.40 586.00 2940.80)"/>
<ellipse cx="586.00" cy="2940.80" rx="31.72" ry="29.20" stroke="#b9c431" stroke-width="4.00" transform="rotate(-138.90 586.00 2940.80)"/>
<ellipse cx="586.00" cy="2940.80" rx="27.84" ry="25.63" stroke="#f0ba36" stroke-width="4.00" transform="rotate(-139.40 586.00 2940.80)"/>
<ellipse cx="586.00" cy="2940.80" rx="23.77" ry="21.88" stroke="#fec934" stroke-width="4.00" transform="rotate(-139.90 586.00 2940.80)"/>
<ellipse cx="586.00" cy="2940.80" rx="19.11" ry="17.59" stroke="#f5e327" stroke-width="4.00" transform="rotate(-140.40 586.00 2940.80)"/>
<ellipse cx="586.00" cy="2940.80" rx="13.29" ry="12.23" stroke="#f9fb15" stroke-width="4.00" transform="rotate(-140.90 586.00 2940.80)"/>
</g>
<rect x="165.70" y="2506.20" width="839.60" height="3.60" fill="#262626"/>
<rect x="165.70" y="3372.20" width="839.60" height="3.60" fill="#262626"/>
<rect x="165.70" y="2506.20" width="3.60" height="869.60" fill="#262626"/>
<rect x="1001.70" y="2506.20" width="3.60" height="869.60" fill="#262626"/>
<rect x="251.20" y="3363.50" width="3.60" height="10.50" fill="#262626"/>
<rect x="251.20" y="2508.00" width="3.60" height="10.50" fill="#262626"/>
<rect x="584.20" y="3363.50" width="3.60" height="10.50" fill="#262626"/>
<rect x="584.20" y="2508.00" width="3.60" height="10.50" fill="#262626"/>
<rect x="918.20" y="3363.50" width="3.60" height="10.50" fill="#262626"/>
<rect x="918.20" y="2508.00" width="3.60" height="10.50" fill="#262626"/>
<rect x="167.50" y="2524.20" width="10.50" height="3.60" fill="#262626"/>
<rect x="993.00" y="2524.20" width="10.50" height="3.60" fill="#262626"/>
<rect x="167.50" y="2662.37" width="10.50" height="3.60" fill="#262626"/>
<rect x="993.00" y="2662.37" width="10.50" height="3.60" fill="#262626"/>
<rect x="167.50" y="2800.53" width="10.50" height="3.60" fill="#262626"/>
<rect x="993.00" y="2800.53" width="10.50" height="3.60" fill="#262626"/>
<rect x="167.50" y="2938.70" width="10.50" height="3.60" fill="#262626"/>
<rect x="993.00" y="2938.70" width="10.50" height="3.60" fill="#262626"/>
<rect x="167.50" y="3076.87" width="10.50" height="3.60" fill="#262626"/>
<rect x="993.00" y="3076.87" width="10.50" height="3.60" fill="#262626"/>
<rect x="167.50" y="3215.03" width="10.50" height="3.60" fill="#262626"/>
<rect x="993.00" y="3215.03" width="10.50" height="3.60" fill="#262626"/>
<rect x="167.50" y="3353.20" width="10.50" height="3.60" fill="#262626"/>
<rect x="993.00" y="3353.20" width="10.50" height="3.60" fill="#262626"/>
<text transform="translate(145.20 2546.00) scale(1 1.0440)" font-size="52.40" font-weight="normal" fill="#262626" text-anchor="end">6</text>
<text transform="translate(145.20 2684.17) scale(1 1.0440)" font-size="52.40" font-weight="normal" fill="#262626" text-anchor="end">4</text>
<text transform="translate(145.20 2822.33) scale(1 1.0440)" font-size="52.40" font-weight="normal" fill="#262626" text-anchor="end">2</text>
<text transform="translate(145.20 2960.50) scale(1 1.0440)" font-size="52.40" font-weight="normal" fill="#262626" text-anchor="end">0</text>
<text transform="translate(89.45 3098.48) scale(1 1.0440)" font-size="52.40" fill="#262626"><tspan font-weight="bold" font-size="48.0">−</tspan><tspan dx="0.73" dy="2.38">2</tspan></text>
<text transform="translate(89.45 3236.65) scale(1 1.0440)" font-size="52.40" fill="#262626"><tspan font-weight="bold" font-size="48.0">−</tspan><tspan dx="0.73" dy="2.29">4</tspan></text>
<text transform="translate(89.45 3374.81) scale(1 1.0440)" font-size="52.40" fill="#262626"><tspan font-weight="bold" font-size="48.0">−</tspan><tspan dx="0.73" dy="3.44">6</tspan></text>
<text transform="translate(217.23 3442.71) scale(1 1.0440)" font-size="52.40" fill="#262626"><tspan font-weight="bold" font-size="48.0">−</tspan><tspan dx="1.33" dy="3.25">5</tspan></text>
<text transform="translate(583.45 3443.50) scale(1 1.0440)" font-size="52.40" font-weight="normal" fill="#262626" text-anchor="middle">0</text>
<text transform="translate(917.30 3443.50) scale(1 1.0440)" font-size="52.40" font-weight="normal" fill="#262626" text-anchor="middle">5</text>
<text transform="translate(448.30 3516.30) scale(1 1.0000)" font-size="57.60" font-weight="normal" fill="#262626" text-anchor="start">longitude</text>
<text transform="translate(68.50 2959.40) rotate(-90) scale(1 1.0000)" font-size="57.60" fill="#262626" text-anchor="middle">latitude</text>
<text transform="translate(392.90 2479.70) scale(1 1.0300)" font-size="57.60" font-weight="bold" fill="#000" text-anchor="start">Vorticity, t2</text>
<g fill="none" stroke-width="3.60" stroke-linejoin="round" stroke-linecap="round" shape-rendering="crispEdges">
<path d="M1565.8 2928.9C1566.8 2922.0 1568.7 2915.4 1570.9 2908.6C1573.1 2901.8 1575.6 2895.0 1579.0 2888.2C1582.4 2881.5 1586.7 2874.2 1591.3 2867.9C1595.9 2861.6 1601.2 2855.9 1606.6 2850.6C1612.1 2845.3 1618.0 2840.5 1623.9 2836.3C1629.9 2832.0 1635.8 2828.3 1642.2 2825.1C1648.7 2821.9 1655.8 2819.0 1662.6 2817.0C1669.4 2815.0 1677.7 2813.5 1683.0 2812.9C1688.3 2812.2 1690.0 2812.8 1694.4 2812.9C1698.9 2812.9 1704.6 2812.8 1709.7 2813.4C1714.8 2814.1 1719.9 2815.6 1725.0 2817.0C1730.1 2818.4 1735.1 2820.1 1740.2 2822.0C1745.3 2824.0 1750.5 2825.9 1755.6 2828.7C1760.7 2831.4 1766.0 2834.7 1770.8 2838.3C1775.5 2842.0 1780.1 2846.5 1784.0 2850.6C1787.9 2854.7 1791.0 2858.0 1794.2 2862.7C1797.5 2867.5 1800.9 2873.6 1803.4 2879.0C1806.0 2884.5 1807.9 2889.6 1809.6 2895.3C1811.2 2901.1 1812.4 2908.0 1813.1 2913.6C1813.9 2919.2 1814.2 2923.1 1814.1 2928.9C1814.0 2934.7 1813.7 2941.4 1812.4 2948.4C1811.2 2955.4 1808.9 2963.7 1806.5 2970.8C1804.1 2978.0 1801.5 2984.7 1798.3 2991.2C1795.1 2997.6 1791.2 3003.8 1787.1 3009.6C1783.0 3015.3 1778.6 3020.7 1773.9 3025.8C1769.1 3030.9 1763.9 3035.8 1758.6 3040.1C1753.4 3044.3 1747.9 3048.0 1742.3 3051.3C1736.7 3054.5 1730.8 3057.1 1725.0 3059.4C1719.2 3061.6 1713.6 3063.2 1707.7 3064.5C1701.7 3065.8 1693.4 3066.6 1689.3 3067.1C1685.2 3067.5 1687.4 3067.4 1683.0 3067.1C1678.5 3066.7 1669.4 3066.3 1662.6 3065.0C1655.8 3063.7 1648.5 3061.6 1642.2 3059.4C1635.9 3057.1 1630.5 3054.5 1624.9 3051.3C1619.3 3048.0 1613.7 3044.3 1608.6 3040.1C1603.5 3035.8 1598.6 3030.9 1594.4 3025.8C1590.1 3020.7 1586.6 3015.3 1583.2 3009.6C1579.8 3003.8 1576.5 2997.6 1574.0 2991.2C1571.4 2984.7 1569.4 2977.6 1567.8 2970.8C1566.3 2964.0 1565.1 2957.5 1564.8 2950.5C1564.4 2943.5 1564.7 2935.9 1565.8 2928.9Z" stroke="#3e26a8" stroke-width="3.80"/>
<path d="M1573.2 2934.0C1573.6 2927.8 1575.0 2920.4 1576.8 2913.6C1578.6 2906.8 1580.9 2899.7 1584.0 2893.3C1587.1 2886.8 1590.9 2880.8 1595.4 2875.0C1599.9 2869.2 1605.1 2863.8 1610.8 2858.7C1616.5 2853.6 1622.9 2848.7 1629.4 2844.5C1635.9 2840.2 1643.1 2836.3 1650.0 2833.2C1656.9 2830.1 1664.2 2827.7 1670.6 2826.1C1676.9 2824.5 1682.9 2824.1 1688.1 2823.5C1693.3 2822.9 1697.2 2822.4 1701.7 2822.5C1706.2 2822.6 1710.3 2823.0 1715.1 2824.1C1719.9 2825.2 1725.3 2827.1 1730.5 2829.2C1735.7 2831.2 1740.8 2833.4 1746.0 2836.3C1751.2 2839.1 1757.1 2843.4 1761.4 2846.4C1765.7 2849.5 1768.6 2851.8 1771.7 2854.6C1774.8 2857.5 1777.2 2860.3 1780.0 2863.7C1782.8 2867.1 1785.8 2871.1 1788.2 2875.0C1790.6 2878.9 1792.5 2883.1 1794.4 2887.1C1796.3 2891.2 1798.1 2895.3 1799.5 2899.4C1800.9 2903.5 1801.7 2907.6 1802.6 2911.7C1803.5 2915.7 1804.3 2919.2 1804.7 2923.8C1805.1 2928.4 1805.4 2934.7 1805.2 2939.1C1805.0 2943.6 1804.8 2945.2 1803.7 2950.5C1802.6 2955.8 1800.6 2964.7 1798.5 2970.8C1796.4 2976.9 1794.0 2982.0 1791.3 2987.1C1788.5 2992.2 1785.3 2996.9 1782.0 3001.4C1778.7 3005.8 1775.5 3009.7 1771.7 3013.6C1767.9 3017.5 1763.7 3021.4 1759.4 3024.8C1755.1 3028.2 1750.8 3031.1 1746.0 3034.0C1741.2 3036.8 1735.7 3039.7 1730.5 3042.1C1725.3 3044.4 1720.2 3046.3 1715.1 3048.2C1709.9 3050.1 1705.8 3052.0 1699.6 3053.3C1693.4 3054.7 1684.3 3056.4 1677.8 3056.4C1671.2 3056.4 1666.0 3054.9 1660.3 3053.3C1654.6 3051.8 1649.3 3049.8 1643.8 3047.2C1638.3 3044.7 1632.8 3041.8 1627.3 3038.0C1621.8 3034.3 1615.8 3029.5 1610.8 3024.8C1605.8 3020.0 1601.4 3015.2 1597.4 3009.6C1593.5 3004.0 1590.2 2997.6 1587.1 2991.2C1584.0 2984.7 1581.1 2977.6 1578.9 2970.8C1576.8 2964.0 1575.2 2956.6 1574.2 2950.5C1573.2 2944.3 1572.8 2940.1 1573.2 2934.0Z" stroke="#4537d5" stroke-width="3.80"/>
<path d="M1677.8 2840.2C1677.8 2839.2 1680.1 2838.1 1682.9 2837.1C1685.7 2836.1 1690.8 2834.3 1694.5 2834.0C1698.2 2833.7 1701.7 2834.6 1704.8 2835.5C1707.9 2836.4 1710.9 2838.1 1713.0 2839.7C1715.1 2841.3 1716.8 2843.7 1717.6 2845.3C1718.4 2846.9 1718.4 2848.3 1718.0 2849.5C1717.6 2850.7 1716.4 2851.9 1715.1 2852.5C1713.8 2853.1 1712.5 2853.6 1709.9 2853.1C1707.3 2852.6 1703.0 2850.7 1699.6 2849.5C1696.2 2848.3 1692.1 2846.9 1689.3 2845.8C1686.5 2844.7 1684.8 2843.9 1682.9 2843.0C1681.0 2842.1 1677.8 2841.2 1677.8 2840.2Z" stroke="#4537d5" stroke-width="3.80"/>
<path d="M1660.6 3032.3C1660.6 3030.7 1661.1 3029.0 1662.3 3028.1C1663.5 3027.2 1664.9 3026.7 1667.5 3026.8C1670.1 3026.9 1674.4 3028.0 1677.8 3028.9C1681.2 3029.8 1684.8 3031.3 1688.1 3032.5C1691.4 3033.7 1695.4 3034.9 1697.6 3036.1C1699.8 3037.3 1701.2 3038.5 1701.2 3039.7C1701.2 3040.9 1699.6 3042.3 1697.6 3043.3C1695.6 3044.3 1692.6 3045.6 1689.3 3045.9C1686.0 3046.2 1681.4 3045.7 1677.8 3045.1C1674.2 3044.5 1670.1 3043.5 1667.5 3042.3C1664.9 3041.1 1663.5 3039.6 1662.3 3037.9C1661.1 3036.2 1660.6 3033.9 1660.6 3032.3Z" stroke="#4537d5" stroke-width="3.80"/>
<path d="M1737.7 2880.4C1737.8 2880.3 1741.5 2883.3 1743.4 2885.0C1745.3 2886.7 1749.9 2891.4 1751.6 2893.3C1753.3 2895.2 1754.8 2898.0 1755.8 2899.5C1756.8 2901.0 1758.2 2903.7 1759.2 2904.9C1760.2 2906.1 1762.2 2906.8 1763.5 2908.2C1764.8 2909.6 1767.2 2913.1 1768.6 2915.4C1770.0 2917.7 1772.6 2923.7 1773.8 2925.7C1775.0 2927.7 1776.8 2930.5 1777.9 2930.6C1779.0 2930.7 1781.2 2927.6 1782.0 2926.7C1782.8 2925.8 1783.5 2923.6 1784.1 2923.6C1784.7 2923.6 1786.2 2925.3 1786.7 2926.7C1787.2 2928.1 1787.8 2931.9 1787.7 2933.9C1787.6 2935.9 1786.9 2939.4 1786.3 2942.0C1785.7 2944.6 1784.2 2950.6 1783.1 2953.7C1782.0 2956.8 1779.4 2962.3 1777.9 2965.0C1776.4 2967.7 1772.9 2972.6 1771.7 2974.3C1770.5 2976.0 1769.2 2977.3 1768.6 2977.9C1768.0 2978.5 1767.5 2979.0 1767.1 2978.8C1766.7 2978.6 1765.6 2977.4 1765.7 2976.4C1765.8 2975.4 1767.1 2973.3 1767.6 2971.2C1768.1 2969.1 1769.4 2963.6 1769.7 2960.9C1770.0 2958.2 1770.0 2953.3 1769.7 2950.6C1769.4 2947.9 1768.2 2943.2 1767.6 2940.3C1767.0 2937.4 1766.3 2932.4 1765.5 2928.8C1764.7 2925.2 1762.5 2916.5 1761.4 2913.3C1760.3 2910.1 1758.5 2906.8 1757.6 2905.1C1756.7 2903.4 1755.5 2901.7 1754.6 2900.3C1753.7 2898.9 1752.2 2896.2 1750.6 2894.3C1749.0 2892.4 1744.1 2887.9 1742.4 2886.0C1740.7 2884.1 1737.6 2880.5 1737.7 2880.4Z" stroke="#4537d5" stroke-width="3.80"/>
<path d="M1610.8 2901.5C1610.0 2901.6 1607.1 2903.5 1605.7 2905.1C1604.3 2906.7 1601.9 2910.8 1600.5 2913.3C1599.1 2915.8 1596.5 2920.9 1595.4 2923.6C1594.3 2926.3 1592.9 2931.6 1592.3 2933.9C1591.7 2936.2 1591.2 2938.3 1591.0 2940.5C1590.8 2942.7 1590.5 2948.6 1590.7 2950.6C1590.9 2952.6 1591.7 2954.7 1592.3 2955.2C1592.9 2955.7 1594.6 2955.3 1595.4 2954.7C1596.2 2954.1 1597.4 2951.2 1598.4 2950.6C1599.4 2950.0 1601.6 2949.4 1602.6 2950.1C1603.6 2950.8 1604.6 2953.8 1605.7 2955.8C1606.8 2957.8 1609.4 2962.7 1610.8 2965.0C1612.2 2967.3 1614.6 2971.4 1616.0 2973.3C1617.4 2975.2 1619.6 2977.7 1621.1 2979.5C1622.6 2981.3 1625.6 2984.8 1627.3 2986.7C1629.0 2988.6 1632.0 2992.3 1633.5 2993.9C1635.0 2995.5 1637.6 2997.7 1638.6 2998.5C1639.6 2999.3 1641.0 3000.4 1640.7 2999.8C1640.4 2999.2 1637.8 2995.5 1636.6 2993.9C1635.4 2992.3 1632.8 2989.5 1631.4 2987.7C1630.0 2985.9 1627.7 2982.4 1626.3 2980.5C1624.9 2978.6 1622.3 2975.5 1621.1 2973.3C1619.9 2971.1 1618.4 2966.7 1617.5 2964.0C1616.6 2961.3 1614.9 2955.8 1614.2 2952.7C1613.5 2949.6 1612.6 2943.5 1612.2 2940.5C1611.8 2937.5 1611.2 2932.7 1611.0 2930.0C1610.8 2927.3 1610.5 2922.8 1610.5 2920.5C1610.5 2918.2 1610.6 2914.6 1610.8 2912.5C1611.0 2910.4 1612.0 2906.0 1612.0 2904.5C1612.0 2903.0 1611.6 2901.4 1610.8 2901.5Z" stroke="#4537d5" stroke-width="3.80"/>
<path d="M1761.9 2945.0C1762.1 2947.2 1762.1 2949.4 1762.0 2951.6C1762.0 2953.8 1761.8 2956.0 1761.6 2958.1C1761.4 2960.3 1761.0 2962.4 1760.6 2964.5C1760.2 2966.6 1759.7 2968.7 1759.1 2970.7C1758.5 2972.8 1757.8 2974.8 1757.0 2976.7C1756.2 2978.7 1755.2 2980.7 1754.4 2982.5C1753.6 2984.2 1753.1 2985.2 1752.0 2987.5C1750.9 2989.8 1748.8 2993.6 1747.5 2996.0C1746.2 2998.4 1744.8 3000.3 1744.0 3002.0C1743.2 3003.7 1743.0 3004.8 1742.6 3006.0C1742.2 3007.2 1742.3 3008.1 1741.6 3009.1C1740.9 3010.1 1740.6 3010.9 1738.6 3012.1C1736.6 3013.3 1733.1 3015.0 1729.5 3016.2C1725.9 3017.4 1721.3 3018.5 1717.2 3019.2C1713.1 3019.8 1708.9 3020.2 1704.8 3020.1C1700.7 3020.0 1695.8 3019.1 1692.5 3018.6C1689.2 3018.1 1687.6 3017.6 1685.0 3016.8C1682.4 3016.1 1678.8 3014.7 1677.0 3014.1C1675.2 3013.5 1675.9 3013.5 1674.4 3012.9C1673.0 3012.3 1670.3 3011.4 1668.3 3010.6C1666.2 3009.7 1664.2 3008.7 1662.2 3007.7C1660.3 3006.6 1658.3 3005.5 1656.4 3004.2C1654.5 3003.0 1652.6 3001.7 1650.8 3000.3C1649.0 2999.0 1647.3 2997.5 1645.5 2996.0C1643.8 2994.5 1642.2 2992.9 1640.6 2991.2C1639.0 2989.6 1637.5 2987.8 1636.0 2986.0C1634.5 2984.3 1633.1 2982.4 1631.8 2980.5C1630.5 2978.6 1629.2 2976.7 1628.1 2974.7C1626.9 2972.7 1625.8 2970.7 1624.8 2968.6C1623.8 2966.6 1622.8 2964.5 1622.0 2962.4C1621.2 2960.2 1620.4 2958.1 1619.7 2955.9C1619.0 2953.7 1618.5 2951.5 1618.0 2949.3C1617.5 2947.1 1617.1 2944.9 1616.7 2942.7C1616.4 2940.5 1616.2 2938.2 1616.1 2936.0C1615.9 2933.8 1615.9 2931.6 1616.0 2929.4C1616.0 2927.2 1616.2 2925.0 1616.4 2922.9C1616.6 2920.7 1617.0 2918.6 1617.4 2916.5C1617.8 2914.4 1618.3 2912.3 1618.9 2910.3C1619.5 2908.2 1620.2 2906.2 1621.0 2904.3C1621.8 2902.3 1622.8 2900.3 1623.6 2898.5C1624.4 2896.8 1624.9 2895.8 1626.0 2893.5C1627.1 2891.2 1629.2 2887.4 1630.5 2885.0C1631.8 2882.6 1633.2 2880.7 1634.0 2879.0C1634.8 2877.3 1635.0 2876.2 1635.4 2875.0C1635.8 2873.8 1635.7 2872.9 1636.4 2871.9C1637.1 2870.9 1637.4 2870.1 1639.4 2868.9C1641.4 2867.7 1644.9 2866.0 1648.5 2864.8C1652.1 2863.6 1656.7 2862.5 1660.8 2861.8C1664.9 2861.2 1669.1 2860.8 1673.2 2860.9C1677.3 2861.0 1682.2 2861.9 1685.5 2862.4C1688.8 2862.9 1690.4 2863.4 1693.0 2864.2C1695.6 2864.9 1699.2 2866.3 1701.0 2866.9C1702.8 2867.5 1702.1 2867.5 1703.6 2868.1C1705.0 2868.7 1707.7 2869.6 1709.7 2870.4C1711.8 2871.3 1713.8 2872.3 1715.8 2873.3C1717.7 2874.4 1719.7 2875.5 1721.6 2876.8C1723.5 2878.0 1725.4 2879.3 1727.2 2880.7C1729.0 2882.0 1730.7 2883.5 1732.5 2885.0C1734.2 2886.5 1735.8 2888.1 1737.4 2889.8C1739.0 2891.4 1740.5 2893.2 1742.0 2895.0C1743.5 2896.7 1744.9 2898.6 1746.2 2900.5C1747.5 2902.4 1748.8 2904.3 1749.9 2906.3C1751.1 2908.3 1752.2 2910.3 1753.2 2912.4C1754.2 2914.4 1755.2 2916.5 1756.0 2918.6C1756.8 2920.8 1757.6 2922.9 1758.3 2925.1C1759.0 2927.3 1759.5 2929.5 1760.0 2931.7C1760.5 2933.9 1760.9 2936.1 1761.3 2938.3C1761.6 2940.5 1761.8 2942.8 1761.9 2945.0Z" stroke="#484df0" stroke-width="3.80"/>
<ellipse cx="1689.00" cy="2940.50" rx="75.97" ry="66.83" stroke="#4563fd" stroke-width="3.90" transform="rotate(-125.00 1689.00 2940.50)"/>
<ellipse cx="1689.00" cy="2940.50" rx="72.65" ry="63.85" stroke="#2f81fa" stroke-width="3.90" transform="rotate(-125.00 1689.00 2940.50)"/>
<ellipse cx="1689.00" cy="2940.50" rx="69.32" ry="60.88" stroke="#2797eb" stroke-width="3.90" transform="rotate(-125.00 1689.00 2940.50)"/>
<ellipse cx="1689.00" cy="2940.50" rx="65.99" ry="57.90" stroke="#1ca9df" stroke-width="3.90" transform="rotate(-125.00 1689.00 2940.50)"/>
<ellipse cx="1689.00" cy="2940.50" rx="62.67" ry="54.93" stroke="#01b8ca" stroke-width="3.90" transform="rotate(-125.00 1689.00 2940.50)"/>
<ellipse cx="1689.00" cy="2940.50" rx="59.34" ry="51.95" stroke="#2cc4a7" stroke-width="3.90" transform="rotate(-125.00 1689.00 2940.50)"/>
<ellipse cx="1689.00" cy="2940.50" rx="56.01" ry="48.98" stroke="#4acb84" stroke-width="3.80" transform="rotate(-125.00 1689.00 2940.50)"/>
<ellipse cx="1689.00" cy="2940.50" rx="49.49" ry="44.81" stroke="#81cc59" stroke-width="3.80" transform="rotate(-125.00 1689.00 2940.50)"/>
<ellipse cx="1689.00" cy="2940.50" rx="43.22" ry="39.71" stroke="#b9c431" stroke-width="3.80" transform="rotate(-125.00 1689.00 2940.50)"/>
<ellipse cx="1689.00" cy="2940.50" rx="37.35" ry="34.71" stroke="#f0ba36" stroke-width="3.80" transform="rotate(-125.00 1689.00 2940.50)"/>
<ellipse cx="1689.00" cy="2940.50" rx="32.23" ry="29.31" stroke="#fec934" stroke-width="3.80" transform="rotate(-125.00 1689.00 2940.50)"/>
<ellipse cx="1689.00" cy="2940.50" rx="25.39" ry="24.51" stroke="#f5e327" stroke-width="3.80" transform="rotate(-125.00 1689.00 2940.50)"/>
<ellipse cx="1689.00" cy="2940.50" rx="17.98" ry="17.11" stroke="#f9fb15" stroke-width="3.80" transform="rotate(-125.00 1689.00 2940.50)"/>
</g>
<rect x="1268.20" y="2506.20" width="839.60" height="3.60" fill="#262626"/>
<rect x="1268.20" y="3372.20" width="839.60" height="3.60" fill="#262626"/>
<rect x="1268.20" y="2506.20" width="3.60" height="869.60" fill="#262626"/>
<rect x="2104.20" y="2506.20" width="3.60" height="869.60" fill="#262626"/>
<rect x="1354.20" y="3363.50" width="3.60" height="10.50" fill="#262626"/>
<rect x="1354.20" y="2508.00" width="3.60" height="10.50" fill="#262626"/>
<rect x="1687.20" y="3363.50" width="3.60" height="10.50" fill="#262626"/>
<rect x="1687.20" y="2508.00" width="3.60" height="10.50" fill="#262626"/>
<rect x="2020.70" y="3363.50" width="3.60" height="10.50" fill="#262626"/>
<rect x="2020.70" y="2508.00" width="3.60" height="10.50" fill="#262626"/>
<rect x="1270.00" y="2524.20" width="10.50" height="3.60" fill="#262626"/>
<rect x="2095.50" y="2524.20" width="10.50" height="3.60" fill="#262626"/>
<rect x="1270.00" y="2662.37" width="10.50" height="3.60" fill="#262626"/>
<rect x="2095.50" y="2662.37" width="10.50" height="3.60" fill="#262626"/>
<rect x="1270.00" y="2800.53" width="10.50" height="3.60" fill="#262626"/>
<rect x="2095.50" y="2800.53" width="10.50" height="3.60" fill="#262626"/>
<rect x="1270.00" y="2938.70" width="10.50" height="3.60" fill="#262626"/>
<rect x="2095.50" y="2938.70" width="10.50" height="3.60" fill="#262626"/>
<rect x="1270.00" y="3076.87" width="10.50" height="3.60" fill="#262626"/>
<rect x="2095.50" y="3076.87" width="10.50" height="3.60" fill="#262626"/>
<rect x="1270.00" y="3215.03" width="10.50" height="3.60" fill="#262626"/>
<rect x="2095.50" y="3215.03" width="10.50" height="3.60" fill="#262626"/>
<rect x="1270.00" y="3353.20" width="10.50" height="3.60" fill="#262626"/>
<rect x="2095.50" y="3353.20" width="10.50" height="3.60" fill="#262626"/>
<text transform="translate(1247.70 2546.00) scale(1 1.0440)" font-size="52.40" font-weight="normal" fill="#262626" text-anchor="end">6</text>
<text transform="translate(1247.70 2684.17) scale(1 1.0440)" font-size="52.40" font-weight="normal" fill="#262626" text-anchor="end">4</text>
<text transform="translate(1247.70 2822.33) scale(1 1.0440)" font-size="52.40" font-weight="normal" fill="#262626" text-anchor="end">2</text>
<text transform="translate(1247.70 2960.50) scale(1 1.0440)" font-size="52.40" font-weight="normal" fill="#262626" text-anchor="end">0</text>
<text transform="translate(1193.15 3098.48) scale(1 1.0440)" font-size="52.40" fill="#262626"><tspan font-weight="bold" font-size="48.0">−</tspan><tspan dx="1.93" dy="2.38">2</tspan></text>
<text transform="translate(1193.15 3236.65) scale(1 1.0440)" font-size="52.40" fill="#262626"><tspan font-weight="bold" font-size="48.0">−</tspan><tspan dx="1.93" dy="2.29">4</tspan></text>
<text transform="translate(1193.15 3374.81) scale(1 1.0440)" font-size="52.40" fill="#262626"><tspan font-weight="bold" font-size="48.0">−</tspan><tspan dx="1.93" dy="3.44">6</tspan></text>
<text transform="translate(1321.43 3442.71) scale(1 1.0440)" font-size="52.40" fill="#262626"><tspan font-weight="bold" font-size="48.0">−</tspan><tspan dx="2.53" dy="3.25">5</tspan></text>
<text transform="translate(1686.45 3443.50) scale(1 1.0440)" font-size="52.40" font-weight="normal" fill="#262626" text-anchor="middle">0</text>
<text transform="translate(2019.80 3443.50) scale(1 1.0440)" font-size="52.40" font-weight="normal" fill="#262626" text-anchor="middle">5</text>
<text transform="translate(1550.80 3516.30) scale(1 1.0000)" font-size="57.60" font-weight="normal" fill="#262626" text-anchor="start">longitude</text>
<text transform="translate(1172.00 2959.40) rotate(-90) scale(1 1.0000)" font-size="57.60" fill="#262626" text-anchor="middle">latitude</text>
<text transform="translate(1421.30 2479.70) scale(1 1.0300)" font-size="57.60" font-weight="bold" fill="#000" text-anchor="start">Temperature, t2</text>
<g font-family="'Liberation Serif', 'Times New Roman', serif" font-size="88" fill="#000" text-anchor="middle">
<text transform="translate(1019.5 3719.7) scale(0.85 0.985)">(</text>
<text transform="translate(1057.8 3720.4)" font-weight="bold">b</text>
<text transform="translate(1097.5 3719.7) scale(0.85 0.985)">)</text>
</g>
</svg>
</body></html>
